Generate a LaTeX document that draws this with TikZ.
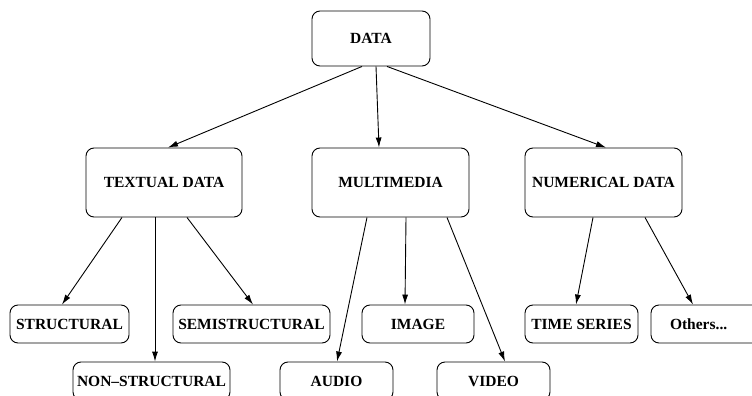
\documentclass[tikz,border=0pt]{standalone}
\usepackage{fontspec}
\setmainfont{Liberation Serif}
\usepackage{tikz}
\usetikzlibrary{arrows.meta}

\tikzset{
  box/.style={draw, rounded corners=8pt, line width=.9pt, inner sep=0pt,
    font=\bfseries\fontsize{15.5}{18}\selectfont},
  bigbox/.style={box, minimum width=157pt, minimum height=69pt},
  leaf/.style={box, minimum width=113pt, minimum height=38pt},
  link/.style={line width=.9pt, -{Latex[length=10pt,width=6pt]}}
}

\begin{document}
\begin{tikzpicture}[x=1pt, y=-1pt]
      \path[use as bounding box, clip] (0, 0) rectangle (752, 396);
      % top
      \node[box, minimum width=118pt, minimum height=55pt] (data) at (371, 38.5) {DATA};
      % middle row
      \node[bigbox, minimum width=156pt] (textual) at (164, 182.5) {TEXTUAL DATA};
      \node[bigbox] (multimedia) at (390.5, 182.5) {MULTIMEDIA};
      \node[bigbox] (numerical) at (603.5, 182.5) {NUMERICAL DATA};
      % leaves
      \node[leaf, minimum width=119pt] (structural) at (69.5, 324) {STRUCTURAL};
      \node[leaf, minimum width=157pt] (semistructural) at (251.5, 324) {SEMISTRUCTURAL};
      \node[leaf, minimum width=157pt] (nonstructural) at (151.5, 381) {NON--STRUCTURAL};
      \node[leaf, minimum width=112pt] (image) at (418, 324) {IMAGE};
      \node[leaf] (audio) at (336.5, 381) {AUDIO};
      \node[leaf] (video) at (493.5, 381) {VIDEO};
      \node[leaf] (timeseries) at (581.5, 324) {TIME SERIES};
      \node[leaf, text width=75pt, inner xsep=19pt, align=left] (others) at (707.5, 324) {Others...};
      % arrows
      \draw[link] ([xshift=-9pt]data.south) -- ([xshift=4pt]textual.north);
      \draw[link] ([xshift=5pt]data.south) -- ([xshift=-11.5pt]multimedia.north);
      \draw[link] ([xshift=16pt]data.south) -- ([xshift=2.5pt]numerical.north);
      \draw[link] ([xshift=-42pt]textual.south) -- ([xshift=-7.5pt]structural.north);
      \draw[link] ([xshift=-9pt]textual.south) -- ([xshift=3.5pt]nonstructural.north);
      \draw[link] ([xshift=23pt]textual.south) -- ([xshift=1.5pt]semistructural.north);
      \draw[link] ([xshift=-23.5pt]multimedia.south) -- ([xshift=.5pt]audio.north);
      \draw[link] ([xshift=15.5pt]multimedia.south) -- ([xshift=-13pt]image.north);
      \draw[link] ([xshift=56.5pt]multimedia.south) -- ([xshift=11.5pt]video.north);
      \draw[link] ([xshift=-10.5pt]numerical.south) -- ([xshift=-5.5pt]timeseries.north);
      \draw[link] ([xshift=41.5pt]numerical.south) -- ([xshift=-14.5pt]others.north);
\end{tikzpicture}
\end{document}
